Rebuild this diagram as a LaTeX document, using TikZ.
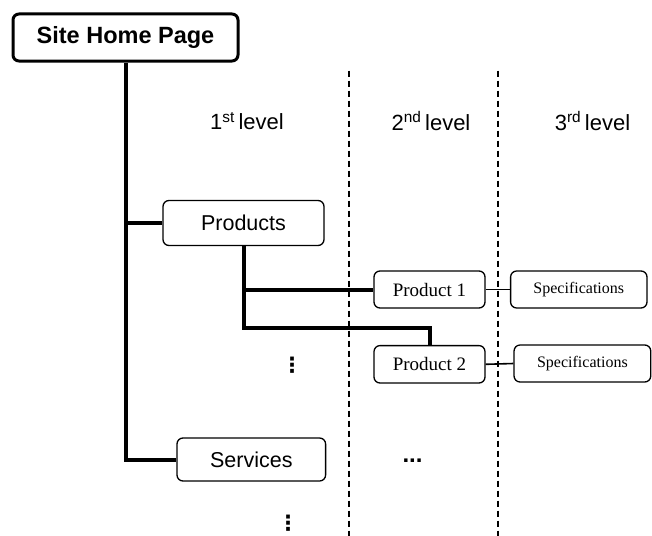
\documentclass[tikz,border=0pt]{standalone}
\usepackage{fontspec}
\setmainfont{Liberation Sans}
\newfontfamily\serfont{Liberation Serif}
\newfontfamily\dvfont{DejaVu Sans}
\begin{document}
\begin{tikzpicture}[x=1pt,y=-1pt,
  box/.style={draw=black, line width=1.3pt, rounded corners=6pt, fill=white, inner sep=0pt, align=center},
  homebox/.style={box, line width=3pt},
  sansA/.style={font=\fontsize{21.5}{24}\selectfont},
  serA/.style={font=\serfont\fontsize{19}{22}\selectfont},
  serB/.style={font=\serfont\fontsize{16}{19}\selectfont},
  link/.style={line width=4pt},
  thinlink/.style={line width=1.6pt},
  divider/.style={line width=2.8pt, dash pattern=on 6.5pt off 3.5pt},
  lvl/.style={font=\fontsize{22}{24}\selectfont, inner sep=0pt},
  dotsnode/.style={font=\dvfont\bfseries\fontsize{21}{23}\selectfont, inner sep=0pt}
]
\useasboundingbox (0,0) rectangle (652,535);

% dividers
\coordinate (d1t) at (349,70.6);
\coordinate (d1b) at (349,540);
\coordinate (d2t) at (498,70.6);
\coordinate (d2b) at (498,540);
\draw[divider] (d1t) -- (d1b);
\draw[divider] (d2t) -- (d2b);

% level labels
\node[lvl] (l1) at (247,121) {1\textsuperscript{st}\,level};
\node[lvl] (l2) at (431,121) {2\textsuperscript{nd}\,level};
\node[lvl] (l3) at (592.5,121) {3\textsuperscript{rd}\,level};

% boxes
\node[homebox, minimum width=225pt, minimum height=47pt, font=\bfseries\fontsize{23.5}{26}\selectfont] (home) at (125.5,37.5) {Site Home Page};
\node[box, sansA, minimum width=161pt, minimum height=45pt] (products) at (243.5,223) {Products};
\node[box, sansA, minimum width=148.6pt, minimum height=43pt] (services) at (251.3,459.5) {Services};
\node[box, serA, minimum width=111pt, minimum height=37pt] (p1) at (429.5,289.5) {Product 1};
\node[box, serA, minimum width=111pt, minimum height=37.4pt] (p2) at (429.5,364.3) {Product 2};
\node[box, serB, minimum width=136.4pt, minimum height=37pt] (s1) at (578.8,289.5) {Specifications};
\node[box, serB, minimum width=136.7pt, minimum height=37pt] (s2) at (582.4,363.5) {Specifications};

% connectors
\coordinate (k2) at (429.5,328);
\draw[link] (home.south) |- (services.west);
\draw[link] (home.south |- products.west) -- (products.west);
\draw[link] (products.south) |- (k2) -- (p2.north);
\draw[link] (products.south |- p1.west) -- (p1.west);
\draw[thinlink] (p1.east) -- (s1.west);
\draw[thinlink] (p2.east) -- (s2.west);

% continuation marks
\node[dotsnode] (v1) at (292,365) {⋮};
\node[dotsnode] (v2) at (288,523) {⋮};
\node[font=\bfseries\fontsize{24}{26}\selectfont, inner sep=0pt] (h1) at (412.5,461) {...};
\end{tikzpicture}
\end{document}
